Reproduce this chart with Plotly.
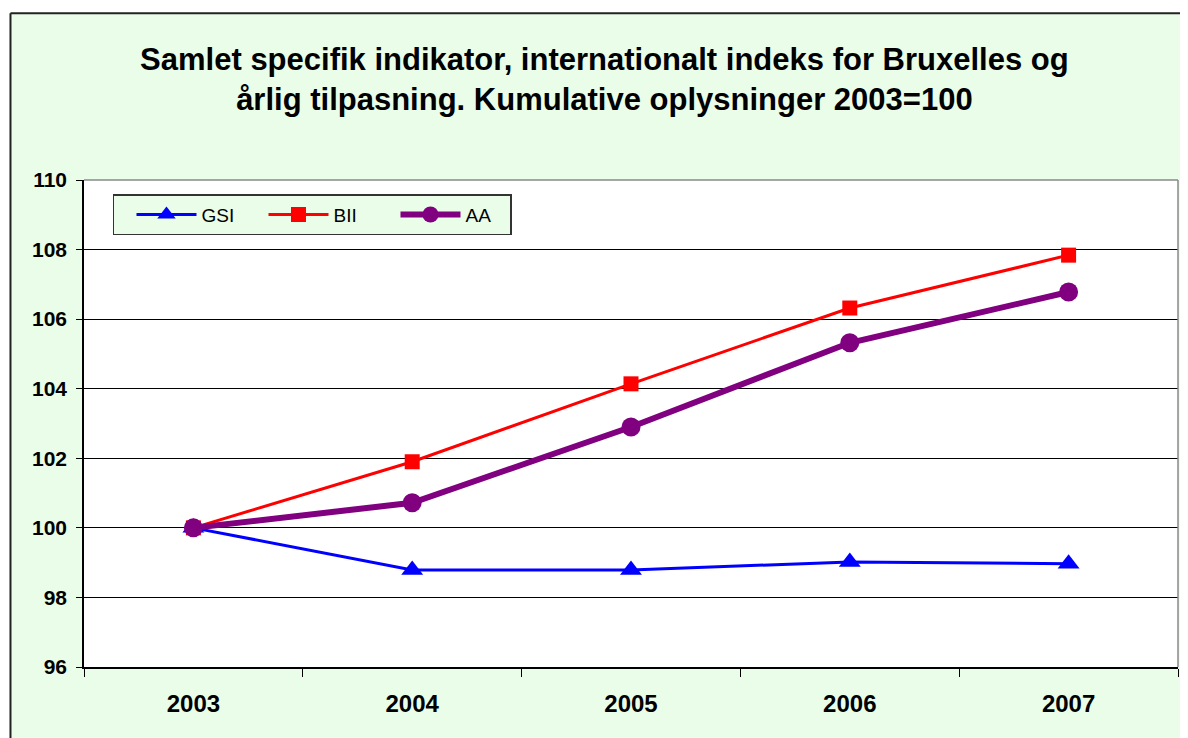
import plotly.graph_objects as go

years = ["2003", "2004", "2005", "2006", "2007"]
gsi = [100.0, 98.79, 98.79, 99.02, 98.97]
bii = [100.0, 101.9, 104.14, 106.32, 107.84]
aa = [100.0, 100.72, 102.9, 105.32, 106.78]
y_ticks = [96, 98, 100, 102, 104, 106, 108, 110]

bg = "#E9FDE9"
font = "Liberation Sans, Arial, sans-serif"

fig = go.Figure()
fig.add_trace(go.Scatter(x=years, y=gsi, name="GSI", mode="lines+markers",
                         line=dict(color="#0000FF", width=3),
                         marker=dict(symbol="triangle-up", size=19, color="#0000FF")))
fig.add_trace(go.Scatter(x=years, y=bii, name="BII", mode="lines+markers",
                         line=dict(color="#FF0000", width=3),
                         marker=dict(symbol="square", size=15, color="#FF0000")))
fig.add_trace(go.Scatter(x=years, y=aa, name="AA", mode="lines+markers",
                         line=dict(color="#800080", width=6),
                         marker=dict(symbol="circle", size=19, color="#800080")))

fig.update_layout(
    width=1188, height=738,
    paper_bgcolor=bg, plot_bgcolor="white",
    margin=dict(l=76, r=18, t=172, b=79, autoexpand=False),
    font=dict(family=font, color="black"),
    title=dict(text="<b>Samlet specifik indikator, internationalt indeks for Bruxelles og<br>årlig tilpasning. Kumulative oplysninger 2003=100</b>",
               x=0.502, xanchor="center", y=0.916, yanchor="middle",
               font=dict(size=31, family=font)),
    showlegend=True,
    legend=dict(orientation="h", x=0.0265, xanchor="left", y=0.971, yanchor="top",
                bgcolor=bg, bordercolor="#333333", borderwidth=1.5,
                font=dict(size=19, family=font), itemwidth=60,
                entrywidth=40, entrywidthmode="pixels", indentation=17),
    xaxis=dict(type="category", range=[-0.5, 4.5], showgrid=False,
               tickson="boundaries", ticks="outside", ticklen=8, tickcolor="black",
               showline=True, linecolor="black", linewidth=1.5,
               tickfont=dict(size=24, family=font, weight="bold"),
               ticklabelstandoff=14),
    yaxis=dict(range=[96, 110], tickvals=y_ticks, showgrid=True, gridcolor="black",
               gridwidth=1, ticks="outside", ticklen=6, tickcolor="black",
               showline=True, linecolor="black", linewidth=1.5, zeroline=False,
               tickfont=dict(size=21, family=font, weight="bold"),
               ticklabelstandoff=5),
)

# gray plot-area frame (top and right)
fig.add_shape(type="line", xref="paper", yref="paper", x0=0, x1=1, y0=1, y1=1,
              line=dict(color="#888888", width=1.5))
fig.add_shape(type="line", xref="paper", yref="paper", x0=1, x1=1, y0=0, y1=1,
              line=dict(color="#888888", width=1.5))
# white page area outside the chart box (left and top)
fig.add_shape(type="rect", xref="paper", yref="paper", x0=-0.3, x1=-0.0676, y0=-0.5, y1=1.7,
              line=dict(width=0), fillcolor="white")
fig.add_shape(type="rect", xref="paper", yref="paper", x0=-0.3, x1=1.3, y0=1.343, y1=1.7,
              line=dict(width=0), fillcolor="white")
# outer chart border (left and top visible)
fig.add_shape(type="line", xref="paper", yref="paper", x0=-0.0672, x1=-0.0672, y0=-0.5, y1=1.3425,
              line=dict(color="#222222", width=2))
fig.add_shape(type="line", xref="paper", yref="paper", x0=-0.0672, x1=1.3, y0=1.3425, y1=1.3425,
              line=dict(color="#222222", width=2))

fig.write_html("out.html")
